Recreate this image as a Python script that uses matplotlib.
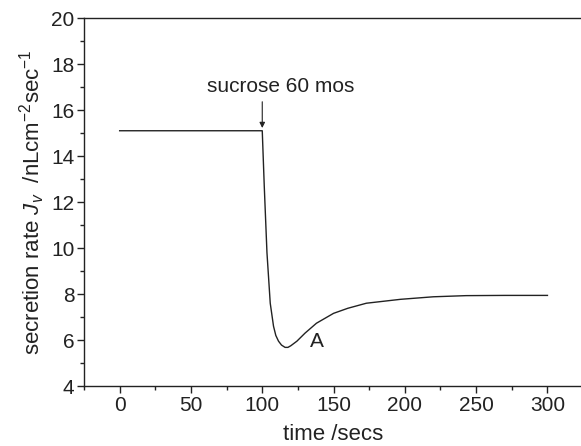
import matplotlib
matplotlib.use("Agg")
import matplotlib.pyplot as plt
from matplotlib.ticker import MultipleLocator

plt.rcParams['font.family'] = ['Liberation Sans', 'DejaVu Sans']
plt.rcParams['mathtext.fontset'] = 'custom'
plt.rcParams['mathtext.rm'] = 'Liberation Sans'
plt.rcParams['mathtext.it'] = 'Liberation Sans:italic'

# data
time = [0, 100, 101.4, 103.3, 105.6, 107.9, 109.5, 111.4, 113.5, 116, 118,
        120, 124.3, 130, 138, 150, 160, 173, 197, 220, 243, 270, 300]
rate = [15.1, 15.1, 12.7, 9.8, 7.6, 6.6, 6.2, 5.95, 5.78, 5.68, 5.68,
        5.75, 5.95, 6.3, 6.73, 7.16, 7.38, 7.6, 7.77, 7.88, 7.93, 7.94, 7.94]

ink = '#222222'
fs = 15

fig = plt.figure(figsize=(5.81, 4.46), dpi=100)
ax = fig.add_axes([0.1446, 0.1345, 0.859, 0.825])

ax.plot(time, rate, color=ink, lw=1.0)

ax.set_xlim(-25, 325)
ax.set_ylim(4, 20)
ax.xaxis.set_major_locator(MultipleLocator(50))
ax.xaxis.set_minor_locator(MultipleLocator(25))
ax.yaxis.set_major_locator(MultipleLocator(2))
ax.yaxis.set_minor_locator(MultipleLocator(1))
ax.tick_params(which='both', direction='out', color=ink, width=1.0,
               labelsize=fs, labelcolor=ink, top=False, right=False)
ax.tick_params(which='major', length=5, pad=2)
ax.tick_params(which='minor', length=3)
ax.spines['right'].set_visible(False)
for s in ('left', 'bottom', 'top'):
    ax.spines[s].set_color(ink)
    ax.spines[s].set_linewidth(1.0)

ax.set_xlabel('time /secs', fontsize=16, color=ink, labelpad=7)
ax.set_ylabel(r'secretion rate $J_v$  /nLcm$^{-2}$sec$^{-1}$', fontsize=16,
              color=ink, labelpad=3)

ax.text(113, 16.77, 'sucrose 60 mos', ha='center', va='baseline',
        fontsize=fs, color=ink)
ax.annotate('', xy=(100, 15.22), xytext=(100, 16.36),
            arrowprops=dict(arrowstyle='-|>', color=ink, lw=0.8,
                            mutation_scale=8, shrinkA=0, shrinkB=0))
ax.text(138, 5.93, 'A', ha='center', va='center', fontsize=fs, color=ink)

fig.savefig('out.png', dpi=100)
